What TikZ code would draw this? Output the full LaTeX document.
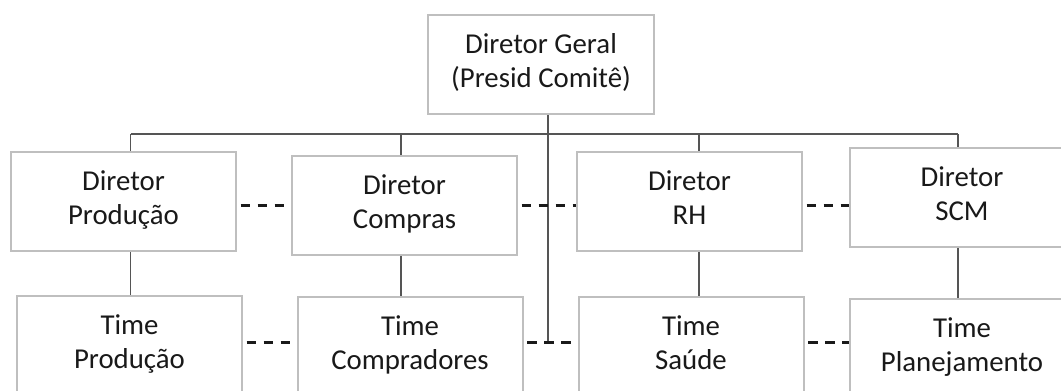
\documentclass[tikz,border=0pt]{standalone}
\usepackage{fontspec}
\setmainfont{Carlito}
\definecolor{boxgray}{HTML}{BFBFBF}
\definecolor{linkgray}{HTML}{555555}
\definecolor{peergray}{HTML}{1A1A1A}
% two-line label with fixed line struts so every box aligns alike
\newcommand\twolines[2]{\rule{0pt}{18pt}#1\\#2\rule[-9pt]{0pt}{9pt}}
\begin{document}
\begin{tikzpicture}[x=0.75pt,y=-0.75pt,
  box/.style={draw=boxgray, line width=1.5pt, fill=white,
    minimum width=168.75pt, minimum height=74.25pt, inner sep=0pt,
    align=center, text=black!90, font=\fontsize{21.6}{25.5}\selectfont},
  link/.style={draw=linkgray, line width=1pt},
  peer/.style={draw=peergray, line width=2pt,
    dash pattern=on 7.1pt off 5.6pt, dash phase=9.9pt}]
\useasboundingbox (0,0) rectangle (1061,390);
\clip (0,0) rectangle (1061,390);

% boxes
\node[box, minimum width=169.5pt] (top) at (541,64.5) {\twolines{Diretor Geral}{(Presid Comitê)}};
\node[box] (dp)  at (123.5,201.7) {\twolines{Diretor}{Produção}};
\node[box] (dc)  at (404.5,205.5) {\twolines{Diretor}{Compras}};
\node[box] (rh)  at (689.5,201.7) {\twolines{Diretor}{RH}};
\node[box] (scm) at (962,197.5)   {\twolines{Diretor}{SCM}};
\node[box] (tp)  at (129.5,345)   {\twolines{Time}{Produção}};
\node[box] (tc)  at (410,346.2)   {\twolines{Time}{Compradores}};
\node[box] (ts)  at (691,346.8)   {\twolines{Time}{Saúde}};
\node[box] (tpl) at (962,348.5)   {\twolines{Time}{Planejamento}};

% bus and column positions
\coordinate (colA) at (130.7,134);
\coordinate (colB) at (401,134);
\coordinate (colC) at (699,134);
\coordinate (colD) at (958,134);
\coordinate (trunk) at (548,134);
\coordinate (rowA) at (0,205.5);
\coordinate (rowB) at (0,342.5);

% hierarchy lines
\draw[link] (colA) -- (colD);
\draw[link] (top.south -| trunk) -- (rowB -| trunk);
\draw[link] (colA) -- (colA |- dp.north);
\draw[link] (colB) -- (colB |- dc.north);
\draw[link] (colC) -- (colC |- rh.north);
\draw[link] (colD) -- (colD |- scm.north);
\draw[link] (dp.south -| colA) -- (tp.north -| colA);
\draw[link] (dc.south -| colB) -- (tc.north -| colB);
\draw[link] (rh.south -| colC) -- (ts.north -| colC);
\draw[link] (scm.south -| colD) -- (tpl.north -| colD);

% peer links
\draw[peer] (dp.east |- rowA) -- (dc.west |- rowA);
\draw[peer] (dc.east |- rowA) -- (rh.west |- rowA);
\draw[peer] (rh.east |- rowA) -- (scm.west |- rowA);
\draw[peer] (tp.east |- rowB) -- (tc.west |- rowB);
\draw[peer] (tc.east |- rowB) -- (ts.west |- rowB);
\draw[peer] (ts.east |- rowB) -- (tpl.west |- rowB);
\end{tikzpicture}
\end{document}
